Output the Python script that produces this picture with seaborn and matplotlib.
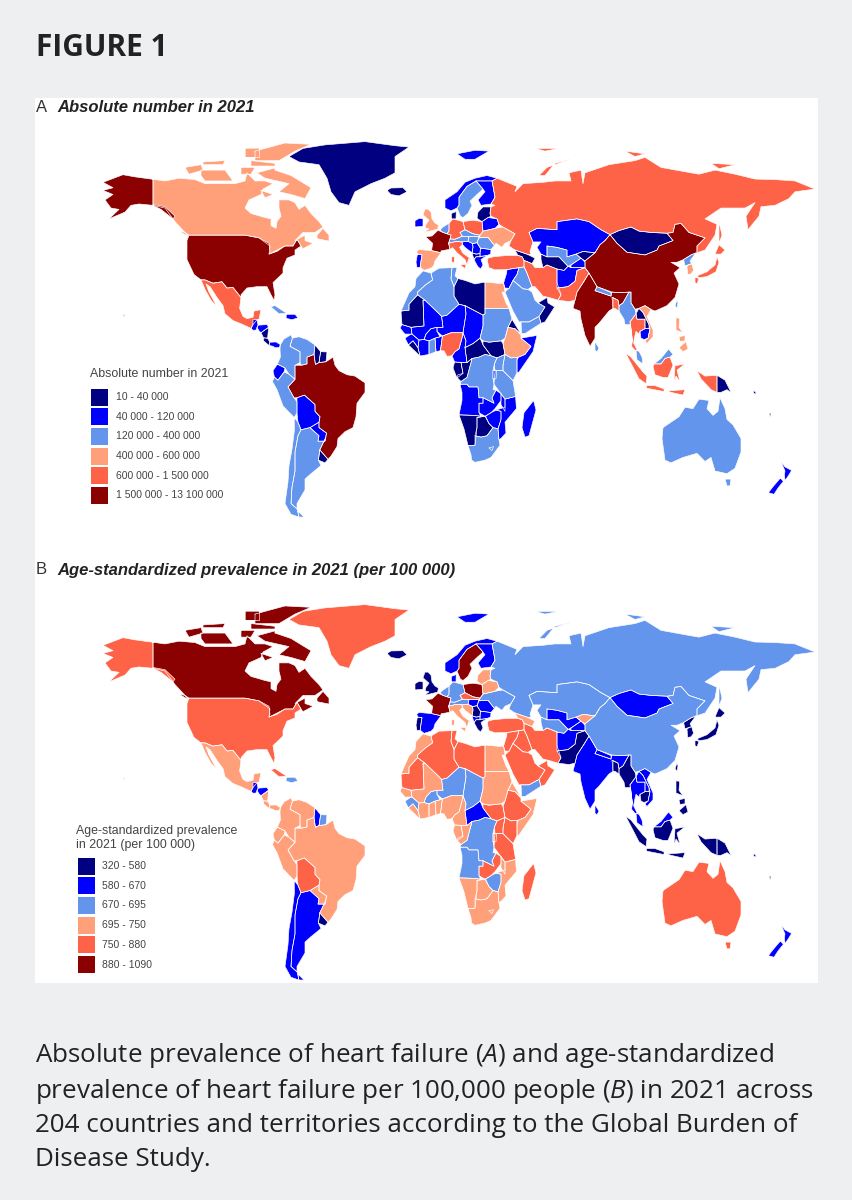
import matplotlib
matplotlib.use("Agg")
import matplotlib.pyplot as plt
import pandas as pd
import seaborn as sns
from matplotlib.patches import Rectangle

# Colour classes, lowest to highest
class_colors = ["#000080", "#0000ff", "#6495ed", "#ffa07a", "#ff6347", "#8b0000"]
labels_a = ["10 - 40 000", "40 000 - 120 000", "120 000 - 400 000", "400 000 - 600 000",
            "600 000 - 1 500 000", "1 500 000 - 13 100 000"]
labels_b = ["320 - 580", "580 - 670", "670 - 695", "695 - 750", "750 - 880", "880 - 1090"]

# Country outlines as (lon, lat)
CANADA = [(-141,69.6),(-135,69),(-128,70),(-120,69.5),(-115,68),(-108,68),(-100,68),(-95,69),(-94,72),(-90,69),(-85,69),(-81,68),(-86,66),(-87,64),(-93,62),(-95,59),(-92,57),(-85,55.5),(-82,55),(-82,52.5),(-79.5,51.5),(-79,54),(-77,56),(-78,59),(-78,62),(-73,62),(-70,61),(-68,58.5),(-65,60),(-62,57),(-58,54),(-56,52),(-60,50),(-66,50),(-70,47),(-65,49),(-65,47),(-61,46),(-66,44),(-67,45),(-69,47.5),(-71,45),(-75,45),(-79,43.5),(-83,42),(-82.5,45),(-88,48),(-95,49),(-123,49),(-125,50),(-130,54),(-135,59),(-141,60)]
BAFFIN = [(-80,73),(-72,71),(-62,66.5),(-65,62.5),(-72,64),(-78,65),(-73,68),(-85,70),(-89,72),(-80,73.8)]
VICTORIA = [(-117,73),(-105,73),(-101,69),(-115,69),(-117,71)]
BANKS = [(-125,74),(-117,75),(-116,73),(-123,71.5)]
ELLESMERE = [(-90,80),(-75,83),(-62,82.5),(-70,80),(-78,76.5),(-90,76.5)]
MELVILLE = [(-116,76),(-105,76.5),(-106,75),(-116,75)]
HEIBERG = [(-95,81),(-88,81),(-88,78),(-95,78)]
SOMERSET = [(-97,74),(-90,74),(-92,71.5),(-97,71.5)]
DEVON = [(-92,76.5),(-80,75.5),(-80,74.5),(-92,74.5)]
NEWFOUNDLAND = [(-59,47.7),(-53,46.8),(-53,49),(-56,51.5),(-59,49)]
VANCOUVER = [(-128,50.5),(-123.5,48.5),(-125,50)]
SOUTHAMPTON = [(-87,65.5),(-81,64),(-85,62.8)]
USA = [(-123,49),(-95,49),(-88,48),(-83,46),(-82.5,43),(-83,42),(-79,43),(-75,45),(-71,45),(-69,47.5),(-67,45),(-70,43.5),(-70,41.7),(-74,40.5),(-76,37),(-76,35),(-81,31.5),(-80,27),(-80.5,25),(-82,27),(-84,30),(-89,30),(-94,29.5),(-97,27),(-97,26),(-101,29.7),(-104,29.5),(-106.5,31.8),(-111,31.3),(-115,32.5),(-117,32.5),(-120.5,34.5),(-124,40),(-124,47)]
ALASKA = [(-141,69.6),(-150,70.5),(-156,71.3),(-166,68.5),(-161,66.5),(-166,65.5),(-161,64),(-165,62),(-162,59),(-158,58.5),(-163,55),(-155,57.5),(-152,60),(-148,60.5),(-141,60)]
PANHANDLE = [(-141,60),(-137,58.5),(-131,55),(-130,56),(-135,59.5),(-141,60.3)]
HAWAII = [(-156,20),(-155,19.5),(-155.6,19)]
MEXICO = [(-117,32.5),(-115,32.5),(-111,31.3),(-106.5,31.8),(-104,29.5),(-101,29.7),(-97,26),(-97.7,22),(-96,19),(-94,18.2),(-91,18.7),(-90.5,21),(-87,21.5),(-88,18),(-89,17.8),(-91,16),(-92,14.6),(-96,16),(-101,17.5),(-105,20),(-106,23),(-109,26),(-112.5,30),(-114.5,31),(-113,28),(-110,24),(-109.5,23),(-112,25),(-115,29)]
GUATEMALA = [(-92,14.6),(-91,16),(-91,17.8),(-89,17.8),(-88.5,15.8),(-89.5,14),(-91,13.9)]
HONDURAS = [(-89,15),(-88.3,15.8),(-84,16),(-83.2,15),(-87,13),(-88,13.7)]
NICARAGUA = [(-87,13),(-83.2,15),(-83.7,11),(-85.7,11.1)]
COSTA_RICA = [(-85.7,11.1),(-83.7,11),(-82.6,9.5),(-83,8.3),(-85.7,10)]
PANAMA = [(-83,8.3),(-82.6,9.5),(-79.5,9.6),(-77.3,8.6),(-78,7.5),(-80,7.5),(-81,8)]
CUBA = [(-85,22),(-80,23),(-74.2,20.2),(-78,20),(-82,22.5)]
HISPANIOLA = [(-74.4,19.8),(-70,19.8),(-68.5,18.5),(-71.5,17.8),(-74.4,18.3)]
COLOMBIA = [(-77.3,8.6),(-75.5,10.7),(-72,12.2),(-71.3,11),(-72.5,8),(-70,7),(-67.5,6),(-67.5,2),(-70,1),(-70,-4.2),(-73,-2.3),(-75,0),(-78.8,1.4),(-77.3,4),(-77.5,7)]
VENEZUELA = [(-71.3,11),(-68,11.5),(-64,10.5),(-60,8.5),(-60.5,5),(-64,4),(-64,1.5),(-66.8,1),(-67.5,2),(-67.5,6),(-70,7),(-72.5,8)]
GUYANA = [(-60,8.5),(-57.2,6),(-58,2),(-59.8,1.3),(-60.5,5)]
SURINAME = [(-57.2,6),(-54,5.9),(-54.5,2.3),(-58,2)]
ECUADOR = [(-78.8,1.4),(-75,0),(-75.5,-1.5),(-78.5,-4.5),(-80.3,-3.4),(-81,-1)]
PERU = [(-80.3,-3.4),(-78.5,-4.5),(-75.5,-1.5),(-73,-2.3),(-70,-4.2),(-73.5,-7),(-70.5,-11),(-69,-12.5),(-69,-16.5),(-70.4,-18.3),(-76,-14),(-79,-8),(-81.3,-5)]
BRAZIL = [(-60.5,5),(-59.8,1.3),(-58,2),(-54.5,2.3),(-52,3.5),(-51,4),(-50,1),(-48,-1),(-44,-2.5),(-40,-3),(-35,-5.5),(-35,-9),(-39,-13),(-39.5,-18),(-41,-22),(-45,-23.5),(-48.5,-26),(-49,-29),(-52,-32.5),(-53.5,-33.7),(-57.6,-30.2),(-54.6,-25.6),(-54.3,-24),(-58,-22),(-58,-20),(-57.5,-18),(-60,-16),(-60,-13.5),(-65.3,-10),(-69,-11),(-70.5,-11),(-73.5,-7),(-70,-4.2),(-70,1),(-66.8,1),(-64,1.5),(-64,4)]
BOLIVIA = [(-69,-11),(-65.3,-10),(-60,-13.5),(-60,-16),(-57.5,-18),(-58,-20),(-62.5,-22),(-67,-22.8),(-68.5,-20),(-69,-16.5),(-69,-12.5)]
PARAGUAY = [(-62.5,-22),(-58,-20),(-58,-22),(-54.3,-24),(-54.6,-25.6),(-55,-27),(-58.5,-27),(-58,-25)]
URUGUAY = [(-57.6,-30.2),(-53.5,-33.7),(-55,-35),(-58.3,-34)]
CHILE = [(-70.4,-18.3),(-68.5,-20),(-67,-22.8),(-68.5,-25),(-70,-31),(-70,-38),(-71.5,-44),(-72,-50),(-69,-52),(-68,-55),(-72,-54),(-75,-50),(-73.5,-42),(-73,-36),(-71.5,-30),(-70.3,-23)]
ARGENTINA = [(-67,-22.8),(-62.5,-22),(-58,-25),(-58.5,-27),(-55,-27),(-54.6,-25.6),(-57.6,-30.2),(-58.3,-34),(-57,-36),(-62,-39),(-65,-41),(-65,-45),(-69,-50),(-69,-52),(-72,-50),(-71.5,-44),(-70,-38),(-70,-31),(-68.5,-25)]
FUEGO = [(-68.5,-52.8),(-65.5,-55),(-68,-55)]
GREENLAND = [(-73,78),(-66,81),(-55,82.3),(-35,83.5),(-20,82),(-13,81.5),(-20,78),(-20,72),(-25,70),(-32,68),(-40,65),(-43,60),(-48,61),(-52,65),(-54,70),(-58,75),(-68,76)]
ICELAND = [(-24,65.5),(-22,66.4),(-16,66.5),(-14,65),(-18,63.5),(-22,64)]
IRELAND = [(-10,52),(-10,54.3),(-8,55.2),(-6,55),(-6,52.3)]
BRITAIN = [(-5.5,50),(1.3,51.2),(1.7,52.7),(0,53.5),(-1.5,55),(-2,57.5),(-3.5,58.6),(-5,58.6),(-6,56.5),(-3,54.5),(-4.5,53),(-5,51.7),(-3,51.3)]
FRANCE = [(-4.7,48.4),(-1.5,48.7),(1.5,50.8),(4,50),(8,49),(7.5,47.5),(6.8,46),(7.5,43.8),(3,43.2),(3,42.5),(-1.7,43.3),(-1.2,46)]
SPAIN = [(-9.2,43),(-8,43.7),(-1.7,43.3),(3,42.5),(0,39.5),(-0.7,37.7),(-2,36.8),(-5.5,36),(-7.4,37.2),(-7,39.5),(-6.5,41.8),(-8.5,42)]
PORTUGAL = [(-8.8,42),(-6.5,41.8),(-7,39.5),(-7.4,37.2),(-9,37),(-9.5,39)]
BENELUX = [(2.5,51),(4,52),(7,53.4),(7,50.5),(6,49.5),(4,50)]
GERMANY = [(7,53.4),(9,55),(14,54),(15,51),(12.5,50),(13.7,48.6),(10,47.5),(7.5,47.6),(8,49),(6,49.5),(7,50.5)]
DENMARK = [(8.2,55),(8.2,57),(10.6,57.7),(10.5,55),(9,55)]
AUSTRIA = [(6.8,46),(7.5,47.6),(10,47.5),(13.7,48.6),(17,48.5),(16.5,46.7),(13.5,46.5),(10.5,46.7)]
ITALY = [(6.8,46),(10.5,46.7),(13.5,46.5),(13.7,45.6),(12.3,44.5),(14,42.3),(18.4,40),(16.8,40.3),(16,38),(15,40),(11,42.5),(8.8,44.4),(7.5,43.8)]
SICILY = [(12.5,38),(15.6,38.2),(15,36.7)]
SARDINIA = [(8.3,41),(9.7,41),(9.6,39),(8.4,39)]
POLAND = [(14,54),(19,54.5),(23.5,54),(24,50.5),(22.5,49),(19,49.5),(15,51)]
CZECHIA = [(12.5,50),(15,51),(19,49.5),(22.5,49),(22,48.4),(17,48.5),(13.7,48.6)]
HUNGARY = [(16.5,46.7),(17,48.5),(22,48.4),(21,46.2),(18.8,45.9)]
CROATIA = [(13.5,46.5),(16.5,46.7),(18.8,45.9),(19,44.5),(18.5,42.5),(15,44.5),(13.7,45.6)]
SERBIA = [(18.8,45.9),(21,46.2),(22.7,44.2),(22.5,42.2),(20.5,42),(18.5,42.5),(19,44.5)]
ALBANIA = [(18.5,42.5),(20.5,42),(22.5,42.2),(22.5,41),(20.5,41),(19.5,40)]
GREECE = [(19.5,40),(20.5,41),(26,41.5),(23,40),(24,38),(22.8,36.5),(21.3,37.5)]
BULGARIA = [(22.7,44.2),(28,43.7),(27.8,42),(26,41.5),(22.5,41),(22.5,42.2)]
ROMANIA = [(21,46.2),(22,48),(26.5,48.2),(29.7,45.2),(28,43.7),(22.7,44.2)]
UKRAINE = [(22,48.4),(24,50.5),(30,51.5),(34,52),(40,49.5),(38,47),(35,46),(33.5,44.5),(30.5,46),(29.7,45.2),(26.5,48.2),(22,48)]
BELARUS = [(23.5,54),(26.5,55.5),(31,55),(32,53),(30,51.5),(24,50.5)]
BALTICS = [(21,55.2),(21.5,57.5),(24,59.4),(28,59.4),(27.5,57),(28,56),(26.5,55.5),(23.5,54)]
NORWAY = [(5,59),(5,62),(11,65),(15,68.5),(20,70),(26,71),(31,70),(28.5,69),(25,69),(20.5,69),(16,67),(14,65),(12,63),(12,60),(11,59),(8,58)]
SWEDEN = [(11,59),(12,60),(12,63),(14,65),(16,67),(20.5,69),(24,66),(21,64),(17.5,61.5),(18.5,60),(16.5,57),(14,55.5),(12.7,56)]
FINLAND = [(20.5,69),(25,69),(28.5,69),(29,67),(30,63),(28,60.5),(23,60),(21.5,62),(25,65),(24,66)]
SVALBARD = [(11,79),(20,80.3),(27,80),(20,77),(15,77)]
TURKEY = [(26.2,39.5),(27,37),(30,36.2),(36,36.3),(42,37),(44.5,37.3),(44.5,39.7),(43.5,41.1),(41.5,41.5),(36,41.5),(31.5,41.2),(29,41),(26.5,40.5)]
CAUCASUS = [(40,43.5),(46,42),(50,40.5),(48.5,38.5),(44.5,39.7),(43.5,41.1),(41.5,41.5)]
SYRIA = [(36,36.3),(42,37),(41,34.5),(39,32.3),(37,29.4),(35,29.5),(34.3,31.3),(35.8,35)]
IRAQ = [(42,37),(44.5,37.3),(46,35),(48.5,30),(46.5,29),(44,29.2),(39,32.3),(41,34.5)]
IRAN = [(44.5,39.7),(48.5,38.5),(50,37),(54,37),(56,38),(61,36.5),(61,31.5),(63,27),(61.5,25),(57,26),(54,26.5),(50,30),(48.5,30),(46,35),(44.5,37.3)]
SAUDI = [(37,29.4),(39,32.3),(44,29.2),(46.5,29),(48.5,28),(50,25),(51.5,24),(55,22.5),(52,19),(47,17),(43,17),(42,17),(39,21),(35,28)]
YEMEN = [(43,17),(47,17),(52,19),(53,16.5),(45,12.7),(43.3,12.7)]
OMAN = [(51.5,24),(56,26),(56.5,24),(59.8,22.5),(55,17),(53,16.5),(52,19),(55,22.5)]
RUSSIA = [(31,70),(41,67),(40,65),(44,68),(54,68.5),(60,69),(68,69),(67,72),(73,73),(74,68),(75,72),(81,73.5),(87,75),(100,76.5),(105,77.7),(113,74),(128,72),(132,71.5),(140,73),(150,71.5),(160,69.7),(170,69.5),(180,69),(190,66),(180,65),(177,62.5),(170,60),(163,59.5),(162,56),(156.5,51),(155.5,56),(160,61),(155,59),(143,59),(135,55),(141,53),(140,49),(135,43.5),(131,42.5),(131,45),(135,48),(127,50),(123,53.3),(120,53),(119,50),(116,49.7),(108,50),(102,50.5),(98,52),(92,50.7),(87.5,49.2),(83,51),(77,54),(71,55),(61,54),(61,51),(51,51.5),(47,50),(49,46.5),(47.5,43),(48,41.8),(46,42),(40,43.5),(37,45),(38,47),(40,49.5),(34,52),(32,53),(31,55),(28,56),(27.5,57),(28,59.4),(30,60),(28,60.5),(30,63),(29,67),(28.5,69)]
NOVAYA = [(52,71),(56,74),(68,77),(60,75.5),(55,71)]
SEVERNAYA = [(95,80),(105,79),(100,78)]
NEW_SIBERIA = [(138,75.5),(150,75),(142,73.5)]
SAKHALIN = [(142,54),(143.5,49),(142,46),(142,50)]
FRANZ_JOSEF = [(50,81),(62,81),(55,80)]
KAZAKHSTAN = [(47,50),(51,51.5),(61,51),(61,54),(71,55),(77,54),(83,51),(87.5,49.2),(85,47),(82.5,45.5),(80,42.5),(74,43),(70.5,42),(66,41),(66,43.5),(61,44.5),(56,45),(56,41),(53,42),(51,44.5),(53,46.5),(49,46.5)]
UZBEKISTAN = [(56,45),(61,44.5),(66,43.5),(66,41),(70.5,42),(73,40.5),(68,38),(66.5,37.5),(62,41),(56,41)]
TURKMENISTAN = [(53,42),(56,41),(62,41),(66.5,37.5),(64.5,36),(61,36.5),(56,38),(54,37),(53,40)]
KYRGYZSTAN = [(70.5,42),(74,43),(80,42.5),(75,39.5),(73,40.5)]
TAJIKISTAN = [(68,38),(73,40.5),(75,39),(75,37),(71,37),(68,37)]
AFGHANISTAN = [(61,36.5),(64.5,36),(66.5,37.5),(68,37),(71,37),(75,37),(71,36),(70,32),(66.5,30),(61,29.5),(61,31.5)]
PAKISTAN = [(61,29.5),(66.5,30),(70,32),(71,36),(75,37),(77,35),(74.5,32),(71,28),(70,25),(67,24.5),(61.5,25),(63,27)]
INDIA = [(74.5,32),(77,35),(79,32.5),(81,30),(80,28.5),(88,26.5),(88.5,28),(92,27.8),(97,28),(94,24),(92,23),(91.5,25),(89,26),(89,22),(87,21),(82,16.5),(80,15),(80,11),(77.5,8),(75,12),(73,18),(72.5,21),(69,22),(70,25),(71,28)]
NEPAL = [(80,28.5),(81,30),(88,27.8),(88,26.5)]
BANGLADESH = [(88.5,26),(91.5,25),(92,23),(92,21),(90,22),(89,22)]
SRI_LANKA = [(80,9.7),(82,7.3),(81,6),(80,6.5)]
MONGOLIA = [(87.5,49.2),(91,46),(96,42.7),(105,41.7),(111,43.5),(112,45),(119,47),(116,49.7),(108,50),(102,50.5),(98,52),(92,50.7)]
CHINA = [(75,39.5),(80,42.5),(82.5,45.5),(85,47),(87.5,49.2),(91,46),(96,42.7),(105,41.7),(111,43.5),(112,45),(119,47),(116,49.7),(119,50),(120,53),(123,53.3),(127,50),(135,48),(131,45),(131,42.5),(128,41.7),(124.3,40),(121,39),(118,39),(122.5,37),(119.5,35),(122,31),(120,26),(116,23),(110,21),(108,21.6),(105,23),(102,22),(100,21.7),(98,24),(98,28),(92,27.8),(88.5,28),(81,30),(79,32.5),(77,35),(75,37)]
TAIWAN = [(120,23),(121,25),(121.5,24),(121,22)]
NORTH_KOREA = [(124.3,40),(128,41.7),(130.5,42.5),(127.5,39.5),(128.3,38.5),(125,37.7)]
SOUTH_KOREA = [(126,37.7),(128.3,38.5),(129.3,36),(128,34.7),(126.3,34.5)]
HONSHU = [(131,34),(136,35.5),(140,38),(141,41),(142,39),(140.5,35.5),(136,33.7),(132,33.3)]
HOKKAIDO = [(140,42),(142,45.5),(145,43.5),(143,42)]
KYUSHU = [(130,33.5),(132,33),(131,31),(130,31.5)]
MYANMAR = [(92,21),(92,23),(94,24),(97,28),(98,28),(98,24),(100,21.7),(100.5,20),(97.5,17),(98.7,10),(97.8,16),(95,16),(94.5,18)]
THAILAND = [(97.5,17),(100.5,20),(101,18),(105,18),(105,14.5),(102.5,13.5),(102,12.5),(100.5,13.5),(100,12),(99.3,9.3),(101,6.7),(102,6.2),(100,6.5),(98.3,8),(98.7,10)]
LAOS = [(100.5,20),(102,22),(104,20.5),(107,16),(107,14.5),(105,14.5),(105,18),(101,18)]
CAMBODIA = [(102.5,13.5),(105,14.5),(107.5,14.5),(106.5,11),(104.5,10.5),(103,11)]
VIETNAM = [(102,22),(105,23),(108,21.6),(106,19),(109,14),(109,11.5),(106,9),(105,10),(106.5,11),(107.5,14.5),(107,16),(104,20.5)]
MALAYA = [(100.5,6.5),(102,6.2),(103.5,4),(104,1.5),(101,3)]
SARAWAK = [(109.5,1.5),(113,3.5),(116.8,7),(119,5),(117.5,4),(115,3.5),(113,1.5)]
KALIMANTAN = [(109,0.5),(109.5,1.5),(113,1.5),(115,3.5),(117.5,4),(119,1),(116.5,-3.5),(114,-3.5),(110,-2.5)]
SUMATRA = [(95.3,5.5),(98,4),(104,-1.5),(106,-3),(105.5,-5.8),(102,-4),(98.5,1)]
JAVA = [(105.5,-6.5),(110,-6.5),(114.5,-7.7),(114.5,-8.7),(106,-7.5)]
SULAWESI = [(119.5,-5.5),(120,0.8),(125,1.5),(121,-0.8),(122.5,-5),(120.5,-3)]
LESSER_SUNDA = [(116,-8.5),(125,-8),(124,-10),(118,-9)]
WEST_PAPUA = [(131,-1),(135,-3),(141,-2.7),(141,-9),(138,-8),(133,-4)]
PNG = [(141,-2.7),(145,-4.5),(148,-9),(150.5,-10.5),(146,-8),(143,-9),(141,-9)]
LUZON = [(120.5,18.5),(122.3,18.3),(122,15),(124,13),(120.5,14)]
MINDANAO = [(122,7.5),(125.5,9.7),(126.5,7),(124,6)]
VISAYAS = [(122,11.5),(125,12),(125,10),(122.5,9.8)]
SOLOMON = [(159,-8),(161,-9.5),(159.5,-9.5)]
VANUATU = [(167,-16),(168,-17),(167.5,-18)]
AUSTRALIA = [(114,-22),(113.5,-26),(115,-34),(118,-35),(124,-33),(131,-31.5),(135,-34.5),(138,-33),(140,-38),(146,-39),(150,-37),(153,-31),(153,-26),(149,-21),(146,-19),(145,-15),(142.5,-11),(141.5,-16),(139,-17.5),(136,-15),(137,-12),(132,-11.5),(129,-15),(125,-14.5),(122,-18),(117,-20.5)]
TASMANIA = [(145,-41),(148,-41),(147.5,-43.5),(146,-43.5)]
NZ_NORTH = [(173,-34.5),(175,-36.5),(178.3,-37.8),(176.5,-40),(175,-41.5),(174.7,-39.5),(175,-38)]
NZ_SOUTH = [(172.7,-40.6),(174.2,-41.8),(171.5,-44.3),(169.5,-46.6),(166.7,-46),(169,-43.8)]
MOROCCO = [(-17,21),(-13,27.7),(-10,30),(-9.5,33),(-6,35.8),(-2,35),(-1.2,32.5),(-5,30.5),(-8.7,28),(-8.7,27),(-13,23.5),(-13,21.3)]
ALGERIA = [(-2,35),(-1.2,32.5),(-5,30.5),(-8.7,28),(-8.7,27),(-5,25),(2,20),(3.3,19),(6,19.5),(12,23.5),(9.5,26.5),(9.5,30),(8,33),(8.5,37),(2,36.8)]
TUNISIA = [(8.5,37),(11,37),(10,34),(11.5,33),(9.5,30),(8,33)]
LIBYA = [(11.5,33),(15,32.3),(20,31),(25,31.7),(25,20),(24,19.5),(15,23),(12,23.5),(9.5,26.5),(9.5,30)]
EGYPT = [(25,31.7),(32,31.2),(34.3,31.3),(35,28),(33.5,28),(35.5,24),(37,22),(25,22)]
MAURITANIA = [(-17,21),(-13,21.3),(-13,23.5),(-8.7,27),(-5,25),(-6,25),(-5.5,15.5),(-12,15),(-16.5,16)]
MALI = [(-12,15),(-5.5,15.5),(-6,25),(-5,25),(2,20),(3.3,19),(4,15),(1,15),(-2,14.5),(-4.5,12.5),(-5.5,10.5),(-8,10.3),(-11.5,12.5)]
NIGER = [(3.3,19),(6,19.5),(12,23.5),(15,23),(15.5,20),(14,13),(8,13),(3.7,11.8),(1,13.5),(1,15),(4,15)]
CHAD = [(15,23),(24,19.5),(24,15.5),(22.5,11),(19,9),(15,7.5),(15.5,10),(14,13),(15.5,20)]
SUDAN = [(25,22),(37,22),(38.5,18),(36.5,15),(35,11),(33,10),(27,9.5),(24,10),(22.5,11),(24,15.5),(24,19.5),(25,20)]
SOUTH_SUDAN = [(24,10),(27,9.5),(33,10),(34,9),(35,5),(31,3.7),(28,4.5),(24,8.5)]
ERITREA = [(36.5,15),(38.5,18),(43,12.5),(40,14.5)]
ETHIOPIA = [(36.5,15),(40,14.5),(43,12),(43,11),(48,8),(45,5),(41.8,4),(38,3.7),(35,5),(34,9),(35,11)]
SOMALIA = [(43,11),(51,12),(49,6),(42,-1.5),(41,-1.7),(41,3),(41.8,4),(45,5),(48,8)]
KENYA = [(35,5),(38,3.7),(41,3.9),(41,-1.7),(39,-4.7),(34,-1),(34,1)]
UGANDA = [(31,3.7),(35,5),(34,1),(34,-1),(30,-1),(29.7,1.5)]
RWANDA = [(29,-1),(30.8,-1),(30.5,-4),(29,-4)]
TANZANIA = [(30,-1),(34,-1),(39,-4.7),(40.3,-10.5),(35,-11.5),(33,-9.5),(29.5,-6)]
DRC = [(12.5,-6),(13,-5),(16,-3.5),(18,2),(18.5,3.5),(22,4),(25,5),(28,4.5),(31,3.7),(29.7,1.5),(29,-1),(29,-4),(29.5,-6),(29,-8),(30.5,-8.2),(28.5,-11),(29.5,-13),(24,-11),(22,-11),(21.5,-7),(17,-7),(16,-6)]
CONGO = [(11,-3.5),(13,-5),(16,-3.5),(18,2),(18.5,3.5),(16,2),(13,2),(14,-2),(11.5,-2.5)]
GABON = [(9,0),(9.8,2.2),(13,2),(14,-2),(11,-3.7)]
CAMEROON = [(8.5,4.5),(10,6),(12,7),(13.5,11),(14,13),(15.5,10),(15,7.5),(16,2),(9.8,2.2)]
CAR = [(15,7.5),(19,9),(22.5,11),(24,8.5),(28,4.5),(25,5),(22,4),(18.5,3.5),(16,2)]
NIGERIA = [(2.7,6.4),(3.7,11.8),(8,13),(14,13),(13.5,11),(12,7),(10,6),(8.5,4.5),(6,4.3),(4.5,6.3)]
BENIN = [(0.5,6),(0,11),(2.5,11.5),(3.7,11.8),(2.7,6.4)]
GHANA = [(-3,5),(-3,10),(0,11),(0.5,6)]
BURKINA = [(-5.5,10.5),(-3,10),(0,11),(2.5,11.5),(1,13.5),(1,15),(-2,14.5),(-4.5,12.5)]
IVORY_COAST = [(-7.5,4.4),(-3,5),(-3,10),(-5.5,10.5),(-8,10.3),(-8.5,7.5)]
LIBERIA = [(-13.3,8.5),(-11,10),(-8.5,7.5),(-7.5,4.4)]
GUINEA = [(-15,11),(-12,12.5),(-11.5,12.5),(-8,10.3),(-8.5,7.5),(-11,10),(-13.3,8.5)]
SENEGAL = [(-17.5,14.7),(-16.5,16),(-12,15),(-11.5,12.5),(-15,12.5)]
ANGOLA = [(12.5,-6),(16,-6),(17,-7),(21.5,-7),(22,-11),(24,-11),(24,-13),(22,-13),(22,-16.5),(23,-18),(20,-17.5),(12,-17.3),(13.5,-12),(13.5,-9)]
ZAMBIA = [(24,-11),(29.5,-13),(28.5,-11),(30.5,-8.2),(33,-9.5),(33,-12),(30,-15),(28,-16.5),(25,-17.8),(22,-16.5),(22,-13),(24,-13)]
MALAWI = [(33,-9.5),(35,-11.5),(35,-16),(33,-13.5)]
MOZAMBIQUE = [(40.3,-10.5),(40.7,-15),(35,-20),(35.5,-24),(33,-26),(32,-26.5),(31.5,-22.5),(33,-19),(33,-16),(30.5,-15.5),(35,-14.5),(35,-11.5)]
ZIMBABWE = [(25.3,-17.8),(28,-16.5),(30.5,-15.6),(33,-16),(33,-19),(31.5,-22.4),(29,-22),(27,-20.5)]
NAMIBIA = [(12,-17.3),(20,-17.5),(25,-17.8),(21,-18.3),(21,-22),(20,-28.5),(16.5,-28.6),(14.5,-22.5)]
BOTSWANA = [(21,-18.3),(25,-17.8),(27,-20.5),(29,-22),(26,-25),(23,-25.5),(20,-25),(21,-22)]
SOUTH_AFRICA = [(16.5,-28.6),(20,-28.5),(20,-25),(23,-25.5),(26,-25),(29,-22),(31.5,-22.4),(32,-26.5),(32.5,-28.5),(28,-33),(25,-34),(20,-34.8),(18.3,-34),(18,-32)]
LESOTHO = [(27,-29.5),(29.3,-29),(28.5,-30.5)]
MADAGASCAR = [(49.3,-12),(50.5,-15.5),(47,-25),(45,-25.5),(43.5,-22),(44.5,-16.5)]

# name, outlines, class in panel A, class in panel B
countries = [
    ("Canada", [CANADA, BAFFIN, VICTORIA, BANKS, ELLESMERE, MELVILLE, HEIBERG, SOMERSET, DEVON,
                NEWFOUNDLAND, VANCOUVER, SOUTHAMPTON], 3, 5),
    ("USA", [USA], 5, 4), ("Alaska", [ALASKA, PANHANDLE, HAWAII], 5, 4), ("Mexico", [MEXICO], 4, 3),
    ("Guatemala", [GUATEMALA], 1, 1), ("Honduras", [HONDURAS], 1, 1), ("Nicaragua", [NICARAGUA], 0, 3),
    ("Costa Rica", [COSTA_RICA], 0, 3), ("Panama", [PANAMA], 1, 3), ("Cuba", [CUBA], 2, 4),
    ("Hispaniola", [HISPANIOLA], 1, 2), ("Colombia", [COLOMBIA], 2, 3), ("Venezuela", [VENEZUELA], 2, 3),
    ("Guyana", [GUYANA], 0, 1), ("Suriname", [SURINAME], 0, 2), ("Ecuador", [ECUADOR], 1, 3),
    ("Peru", [PERU], 2, 3), ("Brazil", [BRAZIL], 5, 3), ("Bolivia", [BOLIVIA], 1, 4),
    ("Paraguay", [PARAGUAY], 1, 3), ("Uruguay", [URUGUAY], 0, 0), ("Chile", [CHILE], 2, 1),
    ("Argentina", [ARGENTINA, FUEGO], 2, 1), ("Greenland", [GREENLAND], 0, 4), ("Iceland", [ICELAND], 0, 0),
    ("Ireland", [IRELAND], 1, 0), ("UK", [BRITAIN], 3, 0), ("France", [FRANCE], 5, 5),
    ("Spain", [SPAIN], 3, 1), ("Portugal", [PORTUGAL], 1, 0), ("Benelux", [BENELUX], 2, 2),
    ("Germany", [GERMANY], 4, 2), ("Denmark", [DENMARK], 0, 1), ("Austria", [AUSTRIA], 2, 2),
    ("Italy", [ITALY, SICILY, SARDINIA], 4, 3), ("Poland", [POLAND], 4, 5), ("Czechia", [CZECHIA], 2, 4),
    ("Hungary", [HUNGARY], 2, 1), ("Croatia", [CROATIA], 1, 3), ("Serbia", [SERBIA], 1, 0),
    ("Albania", [ALBANIA], 0, 1), ("Greece", [GREECE], 1, 0), ("Bulgaria", [BULGARIA], 1, 1),
    ("Romania", [ROMANIA], 2, 1), ("Ukraine", [UKRAINE], 3, 2), ("Belarus", [BELARUS], 1, 3),
    ("Baltics", [BALTICS], 0, 3), ("Norway", [NORWAY], 1, 1), ("Sweden", [SWEDEN], 2, 5),
    ("Finland", [FINLAND], 1, 1), ("Svalbard", [SVALBARD], 1, 1), ("Turkey", [TURKEY], 4, 4),
    ("Caucasus", [CAUCASUS], 0, 3), ("Syria", [SYRIA], 1, 4), ("Iraq", [IRAQ], 2, 4), ("Iran", [IRAN], 4, 4),
    ("Saudi Arabia", [SAUDI], 2, 4), ("Yemen", [YEMEN], 2, 2), ("Oman", [OMAN], 0, 4),
    ("Russia", [RUSSIA, NOVAYA, SEVERNAYA, NEW_SIBERIA, SAKHALIN, FRANZ_JOSEF], 4, 2),
    ("Kazakhstan", [KAZAKHSTAN], 1, 2), ("Uzbekistan", [UZBEKISTAN], 2, 1),
    ("Turkmenistan", [TURKMENISTAN], 0, 2), ("Kyrgyzstan", [KYRGYZSTAN], 0, 3),
    ("Tajikistan", [TAJIKISTAN], 1, 1), ("Afghanistan", [AFGHANISTAN], 1, 1), ("Pakistan", [PAKISTAN], 4, 0),
    ("India", [INDIA], 5, 1), ("Nepal", [NEPAL], 2, 1), ("Bangladesh", [BANGLADESH], 4, 0),
    ("Sri Lanka", [SRI_LANKA], 2, 1), ("Mongolia", [MONGOLIA], 0, 1), ("China", [CHINA], 5, 2),
    ("Taiwan", [TAIWAN], 2, 0), ("North Korea", [NORTH_KOREA], 2, 0), ("South Korea", [SOUTH_KOREA], 3, 0),
    ("Japan", [HONSHU, HOKKAIDO, KYUSHU], 4, 0), ("Myanmar", [MYANMAR], 2, 0), ("Thailand", [THAILAND], 4, 1),
    ("Laos", [LAOS], 0, 1), ("Cambodia", [CAMBODIA], 1, 0), ("Vietnam", [VIETNAM], 3, 1),
    ("Malaysia", [MALAYA, SARAWAK], 2, 1),
    ("Indonesia", [KALIMANTAN, SUMATRA, JAVA, SULAWESI, LESSER_SUNDA, WEST_PAPUA], 4, 0),
    ("PNG", [PNG], 0, 0), ("Philippines", [LUZON, MINDANAO, VISAYAS], 3, 0), ("Solomon", [SOLOMON], 0, 0),
    ("Vanuatu", [VANUATU], 0, 0), ("Australia", [AUSTRALIA, TASMANIA], 2, 4),
    ("New Zealand", [NZ_NORTH, NZ_SOUTH], 1, 1), ("Morocco", [MOROCCO], 2, 3), ("Algeria", [ALGERIA], 2, 4),
    ("Tunisia", [TUNISIA], 2, 4), ("Libya", [LIBYA], 0, 4), ("Egypt", [EGYPT], 3, 3),
    ("Mauritania", [MAURITANIA], 0, 4), ("Mali", [MALI], 1, 3), ("Niger", [NIGER], 1, 2), ("Chad", [CHAD], 1, 2),
    ("Sudan", [SUDAN], 2, 3), ("South Sudan", [SOUTH_SUDAN], 0, 4), ("Eritrea", [ERITREA], 0, 3),
    ("Ethiopia", [ETHIOPIA], 3, 4), ("Somalia", [SOMALIA], 1, 3), ("Kenya", [KENYA], 2, 4),
    ("Uganda", [UGANDA], 2, 4), ("Rwanda", [RWANDA], 1, 3), ("Tanzania", [TANZANIA], 2, 4), ("DRC", [DRC], 2, 2),
    ("Congo", [CONGO], 0, 3), ("Gabon", [GABON], 0, 3), ("Cameroon", [CAMEROON], 1, 3), ("CAR", [CAR], 0, 1),
    ("Nigeria", [NIGERIA], 4, 3), ("Benin", [BENIN], 1, 3), ("Ghana", [GHANA], 2, 3), ("Burkina", [BURKINA], 1, 2),
    ("Ivory Coast", [IVORY_COAST], 1, 3), ("Liberia", [LIBERIA], 0, 3), ("Guinea", [GUINEA], 1, 2),
    ("Senegal", [SENEGAL], 1, 3), ("Angola", [ANGOLA], 1, 2), ("Zambia", [ZAMBIA], 1, 4), ("Malawi", [MALAWI], 1, 3),
    ("Mozambique", [MOZAMBIQUE], 1, 3), ("Zimbabwe", [ZIMBABWE], 1, 2), ("Namibia", [NAMIBIA], 0, 3),
    ("Botswana", [BOTSWANA], 0, 3), ("South Africa", [SOUTH_AFRICA], 2, 3), ("Lesotho", [LESOTHO], 2, 3),
    ("Madagascar", [MADAGASCAR], 1, 4),
]

W, H = 853, 1200
PAGE = "#eeeff1"
GREY = "#444444"

sns.set_theme(style="white")
palette = sns.color_palette(class_colors)
plt.rcParams["mathtext.fontset"] = "custom"
plt.rcParams["mathtext.it"] = "Open Sans:italic"
plt.rcParams["mathtext.rm"] = "Open Sans"

# Long table of the outline vertices, one closed ring per part
rows = []
for name, parts, _, _ in countries:
    for p, part in enumerate(parts):
        for lon, lat in list(part) + [part[0]]:
            rows.append((f"{name}-{p}", lon, lat))
outlines = pd.DataFrame(rows, columns=["part", "lon", "lat"])

fig = plt.figure(figsize=(W / 100, H / 100), dpi=100, facecolor=PAGE)
fig.add_artist(Rectangle((35 / W, 1 - 983 / H), 783 / W, 885 / H, transform=fig.transFigure,
                         facecolor="white", edgecolor="none", zorder=-5))


def draw_map(top, bottom, lat_top, lat_bottom, column):
    ax = fig.add_axes([35 / W, 1 - bottom / H, 783 / W, (bottom - top) / H])
    ax.patch.set_alpha(0)
    for row in countries:
        for part in row[1]:
            xs, ys = zip(*part)
            ax.fill(xs, ys, color=palette[row[column]], lw=0)
    sns.lineplot(data=outlines, x="lon", y="lat", units="part", estimator=None, sort=False,
                 color="white", lw=0.45, legend=False, ax=ax)
    ax.set(xlim=(-200, 191.5), ylim=(lat_bottom, lat_top), xticks=[], yticks=[], xlabel="", ylabel="")
    sns.despine(ax=ax, left=True, bottom=True)
    return ax


draw_map(98, 555, 99.6, -69.0, 2)
draw_map(555, 983, 101.8, -56.1, 3)

# Page overlay in pixels for titles, legends and caption
page = fig.add_axes([0, 0, 1, 1])
page.patch.set_alpha(0)
page.set_xlim(0, W)
page.set_ylim(H, 0)
page.axis("off")

page.text(36, 48, "FIGURE 1", family="Open Sans", weight="bold", fontsize=21.5, color="#222222", va="center")

page.text(36, 107, "A", family="Liberation Sans", fontsize=12, color="#333333", va="center")
page.text(57, 107, "Absolute number in 2021", family="Liberation Sans", weight="bold", style="italic",
          fontsize=12, color="#222222", va="center")
page.text(36, 570, "B", family="Liberation Sans", fontsize=12, color="#333333", va="center")
page.text(57, 570, "Age-standardized prevalence in 2021 (per 100 000)", family="Liberation Sans", weight="bold",
          style="italic", fontsize=12, color="#222222", va="center")


def draw_legend(x, first_y, labels, text_x):
    for i, label in enumerate(labels):
        cy = first_y + i * 19.7
        page.add_patch(Rectangle((x, cy - 8.5), 17, 17, facecolor=palette[i], edgecolor="none"))
        page.text(text_x, cy, label, family="Liberation Sans", fontsize=7.5, color=GREY, va="center")


page.text(90, 374, "Absolute number in 2021", family="Liberation Sans", fontsize=8.9, color=GREY, va="center")
draw_legend(91, 397, labels_a, 116)
page.text(76, 831, "Age-standardized prevalence", family="Liberation Sans", fontsize=8.9, color=GREY, va="center")
page.text(76, 845, "in 2021 (per 100 000)", family="Liberation Sans", fontsize=8.9, color=GREY, va="center")
draw_legend(78, 866, labels_b, 102)

caption = [
    r"Absolute prevalence of heart failure ($\mathit{A}$) and age-standardized",
    r"prevalence of heart failure per 100,000 people ($\mathit{B}$) in 2021 across",
    "204 countries and territories according to the Global Burden of",
    "Disease Study.",
]
for y, line in zip([1056, 1091, 1125, 1160], caption):
    page.text(35, y, line, family="Open Sans", fontsize=18.7, color="#222222", va="center")

fig.savefig("out.png", dpi=100, facecolor=PAGE)
